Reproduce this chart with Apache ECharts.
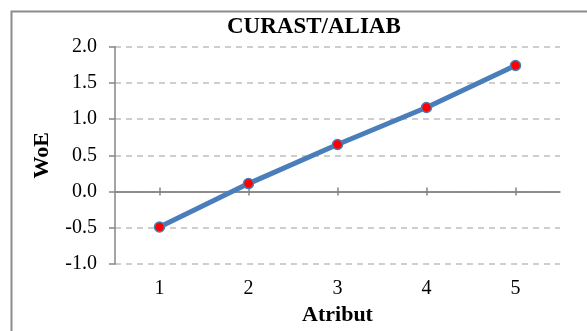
<!DOCTYPE html>
<html>
<head>
<meta charset="utf-8">
<script src="https://cdn.jsdelivr.net/npm/echarts@6/dist/echarts.min.js"></script>
<style>
html,body{margin:0;padding:0;background:#fff;}
#c{width:587px;height:331px;}
</style>
</head>
<body>
<div id="c"></div>
<script>
var categories = ['1', '2', '3', '4', '5'];
var woeValues = [-0.49, 0.11, 0.65, 1.16, 1.74];
var titleText = 'CURAST/ALIAB';
var xName = 'Atribut';
var yName = 'WoE';

var fontFam = '"Liberation Serif","Times New Roman",serif';
var axisGray = '#868686';

var chart = echarts.init(document.getElementById('c'), null, {renderer: 'canvas'});
chart.setOption({
  animation: false,
  backgroundColor: '#fff',
  graphic: [{
    type: 'rect', left: 9, top: 9, z: 100,
    shape: {width: 700, height: 400},
    style: {fill: 'none', stroke: '#8c8c8c', lineWidth: 2}
  }],
  title: {
    text: titleText, left: 227, top: 16, padding: 0,
    textStyle: {fontFamily: fontFam, fontWeight: 'bold', fontSize: 23, color: '#000'}
  },
  grid: {left: 115, right: 27, top: 46.7, bottom: 62.7, containLabel: false},
  xAxis: [
    {
      type: 'category', data: categories, position: 'bottom', boundaryGap: true,
      axisLine: {show: false, onZero: false}, axisTick: {show: false},
      axisLabel: {margin: 15, fontFamily: fontFam, fontSize: 20, color: '#000'},
      name: xName, nameLocation: 'middle', nameGap: 40,
      nameTextStyle: {fontFamily: fontFam, fontWeight: 'bold', fontSize: 22, color: '#000'}
    },
    {
      type: 'category', data: categories, boundaryGap: true, z: 10,
      axisLine: {show: true, onZero: true, onZeroAxisIndex: 0, lineStyle: {color: axisGray, width: 1.5}},
      axisTick: {show: true, alignWithLabel: true, length: 4, lineStyle: {color: axisGray, width: 1.5}},
      axisLabel: {show: false}, splitLine: {show: false}
    },
    {
      type: 'category', data: categories, boundaryGap: true, z: 10,
      axisLine: {show: false, onZero: true, onZeroAxisIndex: 0},
      axisTick: {show: true, inside: true, alignWithLabel: true, length: 4, lineStyle: {color: axisGray, width: 1.5}},
      axisLabel: {show: false}, splitLine: {show: false}
    }
  ],
  yAxis: {
    type: 'value', min: -1, max: 2, interval: 0.5,
    axisLine: {show: true, onZero: false, lineStyle: {color: axisGray, width: 1.5}},
    axisTick: {show: true, length: 6, lineStyle: {color: axisGray, width: 1.5}},
    axisLabel: {margin: 18, fontFamily: fontFam, fontSize: 20, color: '#000',
      formatter: function (v) { return v.toFixed(1); }},
    splitLine: {show: true, lineStyle: {color: '#bfbfbf', width: 1.5, type: [6, 5]}},
    name: yName, nameLocation: 'middle', nameGap: 62, nameRotate: 90,
    nameTextStyle: {fontFamily: fontFam, fontWeight: 'bold', fontSize: 22, color: '#000'}
  },
  series: [{
    type: 'line', data: woeValues, xAxisIndex: 0, yAxisIndex: 0, z: 20,
    symbol: 'circle', symbolSize: 10,
    lineStyle: {color: '#4a7ebb', width: 5},
    itemStyle: {color: '#ff0000', borderColor: '#4a7ebb', borderWidth: 1.5},
    markLine: {
      silent: true, symbol: 'none', z: 5, label: {show: false},
      lineStyle: {color: axisGray, width: 1.5, type: 'solid'},
      emphasis: {disabled: true},
      data: [{yAxis: 0}]
    }
  }]
});
</script>
</body>
</html>
